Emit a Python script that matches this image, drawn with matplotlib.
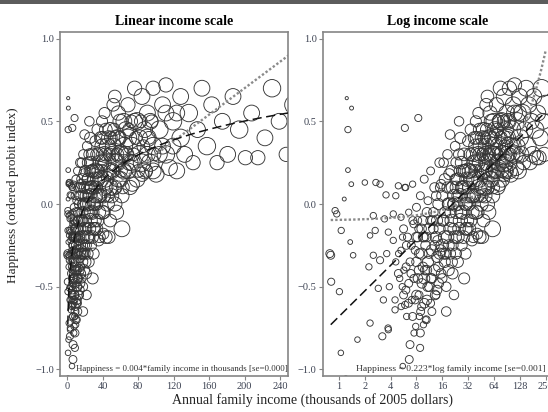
import numpy as np
import matplotlib.pyplot as plt
from matplotlib.patches import Rectangle

plt.rcParams['font.family'] = ['Liberation Serif', 'DejaVu Serif']

# family income (thousands of 2005 dollars), happiness index and cell weight
income = [
    # sparse low-income cells
    1.27, 1.40, 1.23, 5.86, 8.40, 1.27, 1.39, 2.00, 2.69, 3.01,
    1.15, 3.53, 4.92, 5.98, 0.90, 0.94, 1.06, 1.35, 1.46, 0.78,
    0.80, 2.51, 3.39, 4.29, 2.64, 2.30, 3.76, 2.51, 2.23, 3.01,
    3.60, 0.81, 1.01, 2.87, 3.29, 3.86, 2.30, 3.73, 1.05, 1.64,
    3.20, 3.76, 5.54, 6.59, 8.82, 7.84, 9.65, 10.3, 8.63, 4.50,
    1.20, 4.50, 5.90, 7.06, 6.15,
    # 4-8k
    4.29, 4.59, 4.92, 5.28, 5.66, 5.66, 6.06, 6.50, 6.50, 6.96,
    7.21, 7.46, 7.46, 8.00, 8.00, 4.59, 5.28, 5.10, 5.86, 7.21,
    6.73, 5.46, 8.00, 7.73, 6.28, 6.73,
    4.95, 5.31, 5.70, 6.10, 6.45, 6.90, 7.25, 7.50, 7.95, 8.32,
    8.60, 8.95, 9.25, 9.55, 9.90, 10.1, 10.5, 10.8, 11.2, 11.8,
    6.02, 7.70, 8.50, 5.50, 10.4,
    # 8-16k
    8.28, 8.57, 8.57, 8.88, 9.19, 9.19, 9.51, 9.85, 9.85, 10.2,
    10.6, 10.6, 10.9, 11.3, 11.3, 11.7, 12.1, 12.1, 12.6, 13.0,
    13.0, 13.5, 13.9, 13.9, 14.4, 14.9, 14.9, 15.5, 16.0, 16.0,
    8.88, 11.7, 9.51, 12.6, 14.4, 10.9, 13.5, 15.5, 8.28,
    12.3, 13.2, 13.6, 14.1, 14.6, 15.1, 15.3, 16.2,
    # 16-32k
    16.6, 17.1, 17.1, 17.8, 18.4, 18.4, 19.0, 19.7, 20.4, 20.4,
    21.1, 21.9, 22.6, 22.6, 23.4, 24.3, 24.3, 25.1, 26.0, 26.0,
    26.9, 27.9, 27.9, 28.8, 29.9, 29.9, 30.9, 32.0, 32.0, 17.8,
    19.7, 21.9, 25.1, 28.8, 19.0, 23.4, 26.9, 30.9, 21.1, 16.6,
    17.3, 17.6, 18.6, 19.3, 19.9, 20.7, 21.4, 21.6, 22.9, 23.1,
    24.0, 24.7, 25.5, 26.4, 27.4, 28.2, 29.2, 30.4, 31.4,
    # 32-64k
    33.1, 34.3, 34.3, 35.5, 36.8, 36.8, 38.1, 39.4, 39.4, 40.8,
    42.2, 42.2, 43.7, 45.3, 45.3, 46.9, 48.5, 48.5, 50.2, 52.0,
    52.0, 53.8, 55.7, 55.7, 57.7, 59.7, 59.7, 61.8, 64.0, 64.0,
    35.5, 40.8, 46.9, 53.8, 61.8, 38.1, 43.7, 50.2, 57.7, 33.1,
    32.6, 33.8, 35.0, 36.3, 37.5, 38.8, 40.1, 41.5, 43.0, 44.5,
    46.1, 47.7, 49.3, 51.1, 52.9, 54.8, 56.7, 58.7, 60.8, 62.9,
    # 64-128k
    66.3, 68.6, 68.6, 71.0, 73.5, 76.1, 78.8, 78.8, 81.6, 84.4,
    87.4, 90.5, 90.5, 93.7, 97.0, 100.4, 104.0, 107.6, 111.4, 115.4,
    119.4, 123.6, 128.0, 128.0, 73.5, 84.4, 97.0, 111.4, 71.0, 87.4,
    107.6, 123.6,
    65.2, 67.5, 69.8, 72.3, 74.8, 77.4, 80.2, 83.0, 85.9, 88.9,
    92.1, 95.3, 98.6,
    # 128k and up
    132.5, 137.2, 142.0, 147.0, 152.0, 157.6, 163.0, 169.0, 175.0, 181.0,
    187.0, 194.0, 201.0, 208.0, 223.0, 231.0, 239.0, 247.0, 256.0, 215.0,
    # core of the distribution
    9.85, 12.1, 13.9, 16.0, 17.1, 18.4, 19.7, 21.1, 22.6, 23.4,
    24.3, 26.0, 26.9, 28.8, 29.9, 32.0, 33.1, 34.3, 36.8, 38.1,
    39.4, 40.8, 42.2, 43.7, 45.3, 46.9, 48.5, 50.2, 52.0, 53.8,
    55.7, 57.7, 59.7, 61.8, 64.0, 66.3, 68.6, 73.5, 76.1, 81.6,
    84.4, 90.5, 93.7, 97.0, 104.0, 111.4, 119.4, 10.6, 13.0, 14.9,
    16.6, 19.0, 25.1, 11.7, 9.19,
]

happiness = [
    0.45, 0.58, 0.64, 0.46, 0.52, 0.205, 0.12, 0.13, 0.13, 0.12,
    0.03, 0.055, 0.11, 0.10, -0.04, -0.06, -0.16, -0.23, -0.31, -0.30,
    -0.31, -0.07, -0.09, -0.06, -0.16, -0.19, -0.17, -0.31, -0.38, -0.34,
    -0.30, -0.47, -0.53, -0.51, -0.58, -0.50, -0.72, -0.75, -0.90, -0.82,
    -0.80, -0.76, -0.98, -0.94, -0.87, -0.74, -0.73, -0.70, -0.68, -0.64,
    -1.05, -0.58, -0.61, -0.58, -0.68,
    -0.22, -0.35, -0.42, -0.28, -0.55, -0.15, -0.38, -0.05, -0.48, -0.25,
    -0.68, -0.45, -0.12, -0.35, -0.02, 0.05, -0.08, -0.45, 0.10, 0.12,
    -0.85, -0.50, -0.55, -0.28, -0.20, -0.35,
    -0.30, -0.62, -0.40, -0.25, -0.60, -0.42, -0.10, -0.78, -0.20, -0.45,
    -0.30, -0.65, -0.48, -0.20, -0.60, -0.40, -0.20, -0.50, -0.30, -0.45,
    -0.52, -0.58, -0.15, -0.20, -0.70,
    -0.20, -0.40, -0.55, 0.05, -0.30, -0.62, -0.10, -0.45, 0.15, -0.25,
    -0.58, -0.05, -0.35, -0.15, -0.50, 0.20, -0.28, -0.65, -0.05, -0.40,
    0.10, -0.20, -0.52, -0.32, 0.00, -0.15, 0.25, -0.42, -0.25, 0.05,
    -0.78, -0.60, -0.38, -0.15, -0.38, 0.02, -0.55, 0.12, -0.10,
    -0.10, -0.55, 0.05, -0.22, -0.48, 0.10, -0.28, -0.10,
    -0.10, -0.35, 0.15, -0.50, -0.20, 0.30, 0.00, -0.30, -0.10, 0.20,
    -0.42, 0.05, -0.20, 0.35, -0.05, 0.15, -0.35, -0.15, 0.05, 0.40,
    -0.25, 0.20, -0.05, 0.30, 0.00, -0.30, 0.15, 0.05, 0.38, -0.65,
    0.42, -0.55, 0.50, -0.45, -0.25, 0.25, 0.10, -0.15, 0.10, 0.25,
    -0.05, -0.30, 0.00, 0.18, -0.05, -0.35, 0.00, -0.15, 0.15, -0.30,
    0.05, 0.00, 0.20, -0.05, 0.10, -0.20, 0.20, 0.00, -0.10,
    0.20, -0.10, 0.45, 0.05, 0.30, -0.20, 0.15, 0.50, -0.05, 0.25,
    0.10, 0.55, -0.20, 0.35, 0.00, 0.20, 0.45, -0.10, 0.30, 0.10,
    0.60, 0.25, 0.40, -0.05, 0.15, 0.50, 0.30, 0.05, 0.35, 0.20,
    -0.22, -0.18, -0.20, 0.65, -0.15, 0.40, 0.45, 0.05, 0.55, 0.00,
    0.10, 0.30, 0.20, -0.05, 0.05, 0.20, 0.40, -0.05, 0.30, 0.10,
    0.05, 0.30, 0.40, 0.20, 0.45, 0.10, 0.30, 0.40, 0.20, 0.10,
    0.45, 0.20, 0.60, 0.10, 0.35, 0.70, 0.15, 0.50, 0.30, 0.65,
    0.20, 0.40, 0.55, 0.25, 0.70, 0.18, 0.45, 0.60, 0.30, 0.22,
    0.50, 0.20, 0.40, 0.65, 0.12, 0.18, 0.20, 0.72, 0.25, 0.45,
    0.35, 0.55,
    0.20, 0.30, 0.45, 0.50, 0.30, 0.40, 0.20, 0.50, 0.35, 0.20,
    0.40, 0.50, 0.30,
    0.30, 0.55, 0.25, 0.45, 0.70, 0.35, 0.60, 0.25, 0.50, 0.30,
    0.65, 0.45, 0.28, 0.55, 0.40, 0.70, 0.50, 0.30, 0.60, 0.28,
    -0.20, -0.45, -0.10, -0.45, -0.20, 0.10, -0.15, -0.25, 0.00, 0.10,
    -0.20, -0.10, 0.25, 0.10, -0.15, 0.20, -0.15, 0.15, 0.05, 0.25,
    0.35, 0.05, 0.30, 0.15, 0.25, 0.40, 0.10, 0.20, 0.35, 0.00,
    0.25, 0.40, 0.15, 0.30, 0.50, 0.30, 0.40, 0.25, 0.50, 0.40,
    0.25, 0.30, 0.50, 0.35, 0.30, 0.55, 0.35, -0.40, -0.25, -0.30,
    -0.30, -0.40, 0.30, -0.10, -0.15,
]

weight = [
    4, 2.5, 2, 4.5, 4.5, 3, 3, 3.5, 4, 4,
    2.5, 4, 4, 4, 4, 4, 4, 3, 3.5, 5,
    5, 4, 4, 4, 4, 3.5, 4, 4, 4, 4.5,
    4, 4.5, 4, 4, 4, 4, 4, 4, 3.5, 3.5,
    4.5, 4, 3.5, 5, 4.5, 4, 4, 4, 4, 4,
    2.5, 4, 4.5, 4.5, 4,
    4, 4, 5, 4, 5, 5, 5, 4, 5, 5,
    5, 5, 5, 6, 5, 4, 4, 4, 4, 4,
    5, 4, 6, 5, 5, 5,
    4, 4, 4, 5, 5, 5, 5, 4, 6, 6,
    6, 5, 6, 6, 6, 6, 6, 6, 6, 6,
    5, 5, 5, 4, 5,
    6, 6, 5, 5, 7, 5, 6, 7, 5, 6,
    6, 6, 7, 7, 6, 5, 7, 5, 6, 7,
    6, 7, 6, 7, 7, 7, 6, 6, 8, 7,
    5, 5, 6, 6, 6, 5, 5, 6, 5,
    6, 6, 6, 6, 6, 6, 7, 7,
    7, 7, 7, 6, 8, 6, 8, 7, 8, 7,
    7, 8, 8, 6, 8, 8, 7, 8, 9, 7,
    7, 8, 9, 8, 8, 7, 9, 9, 7, 6,
    6, 6, 6, 7, 7, 7, 8, 8, 8, 6,
    7, 7, 7, 7, 7, 7, 7, 7, 7, 7,
    7, 8, 7, 8, 8, 8, 8, 8, 8,
    9, 8, 7, 9, 9, 7, 10, 7, 9, 10,
    10, 7, 8, 10, 9, 10, 9, 8, 10, 10,
    8, 11, 10, 9, 10, 9, 11, 9, 11, 10,
    7, 7, 8, 8, 10, 8, 8, 9, 9, 8,
    8, 8, 8, 8, 8, 8, 8, 8, 8, 8,
    8, 8, 8, 8, 8, 8, 8, 8, 8, 8,
    10, 10, 9, 9, 11, 9, 10, 11, 11, 10,
    10, 11, 10, 11, 9, 10, 11, 10, 11, 10,
    11, 10, 11, 10, 9, 9, 10, 9, 10, 10,
    10, 10,
    8, 8, 8, 8, 8, 8, 8, 8, 8, 8,
    8, 8, 8,
    10, 11, 9, 10, 10, 11, 10, 9, 10, 10,
    10, 11, 9, 10, 10, 11, 10, 9, 12, 9,
    6, 6, 7, 6, 8, 7, 8, 7, 9, 8,
    8, 9, 8, 9, 8, 10, 8, 9, 9, 10,
    9, 9, 10, 10, 11, 9, 10, 10, 10, 9,
    11, 10, 10, 10, 10, 10, 11, 10, 10, 10,
    11, 10, 10, 11, 10, 10, 10, 6, 6, 7,
    7, 7, 7, 6, 6,
]

# fitted relationships
lin_icpt, lin_slope = -0.10, 0.004
log_icpt, log_slope = -0.68, 0.223
fit_range = (0.8, 256)

income = np.array(income)
happiness = np.array(happiness)
sizes = 1.3 * np.array(weight) ** 2

fig = plt.figure(figsize=(5.48, 4.12), dpi=100)
fig.add_artist(Rectangle((0, 1 - 4 / 412), 1, 4 / 412, transform=fig.transFigure,
                         color='#5c5c5c', lw=0))

ax1 = fig.add_axes([60 / 548, 36 / 412, 228 / 548, 344 / 412])
ax2 = fig.add_axes([323 / 548, 36 / 412, 230 / 548, 344 / 412])

fx = np.geomspace(*fit_range, 300)
lin_fit = lin_icpt + lin_slope * fx
log_fit = log_icpt + log_slope * np.log(fx)

spine_col = '#858585'
label_col = '#3c4252'

for ax in (ax1, ax2):
    ax.scatter(income, happiness, s=sizes, facecolors='none',
               edgecolors='#363636', linewidths=0.65, zorder=2)
    ax.plot(fx, lin_fit, color='#8a8a8a', lw=1.7, dashes=(1, 0.9), zorder=3)
    ax.plot(fx, log_fit, color='#111111', lw=1.1, dashes=(6, 3), zorder=4)
    ax.set_ylim(-1.04, 1.04)
    ax.set_yticks([-1.0, -0.5, 0.0, 0.5, 1.0])
    ax.set_yticklabels(['\u22121.0', '\u22120.5', '0.0', '0.5', '1.0'])
    for sp in ax.spines.values():
        sp.set_color(spine_col)
        sp.set_linewidth(1.2)
    ax.tick_params(direction='out', length=3, width=0.8, color=spine_col,
                   labelsize=7.5, labelcolor=label_col, pad=1.5)
    ax.tick_params(axis='x', pad=1)

ax1.set_xlim(-8, 249)
ax1.set_xticks([0, 40, 80, 120, 160, 200, 240])
ax1.set_title('Linear income scale', fontsize=10, fontweight='bold', pad=5)
ax1.text(0.07, 0.02, 'Happiness = 0.004*family income in thousands [se=0.000]',
         transform=ax1.transAxes, fontsize=6.4, color='#333333', va='center')

ax2.set_xscale('log', base=2)
ax2.set_xlim(0.65, 313)
ticks = [1, 2, 4, 8, 16, 32, 64, 128, 256]
ax2.set_xticks(ticks)
ax2.set_xticklabels([str(t) for t in ticks])
ax2.minorticks_off()
ax2.set_title('Log income scale', fontsize=10, fontweight='bold', pad=5)
ax2.text(0.97, 0.02, 'Happiness = 0.223*log family income [se=0.001]',
         transform=ax2.transAxes, fontsize=6.8, color='#333333', va='center', ha='right')

fig.text(13 / 548, 0.527, 'Happiness (ordered probit index)', rotation=90,
         ha='center', va='center', fontsize=9.5, color='#222222')
fig.text(313 / 548, 12 / 412, 'Annual family income (thousands of 2005 dollars)',
         ha='center', va='center', fontsize=10, color='#222222')

fig.savefig('out.png', dpi=100)
